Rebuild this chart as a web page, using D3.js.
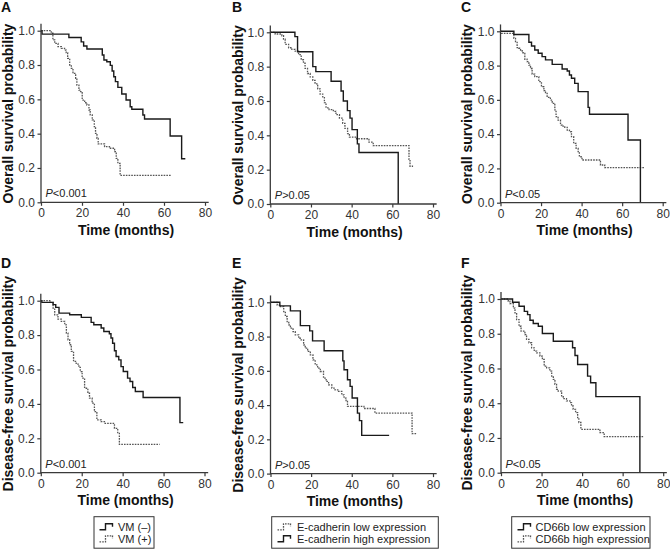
<!DOCTYPE html>
<html><head><meta charset="utf-8">
<script src="https://cdn.jsdelivr.net/npm/d3@7"></script>
<style>
body{margin:0;background:#fff;}
svg{display:block;font-family:"Liberation Sans",Arial,sans-serif;}
</style></head>
<body>
<svg id="chart" width="670" height="549"></svg>
<script>
// ---------- DATA (months, survival probability) ----------
const xTicks = [0, 20, 40, 60, 80];
const yTicks = [0.0, 0.2, 0.4, 0.6, 0.8, 1.0];
const panelLetters = ["A", "B", "C", "D", "E", "F"];
const pValues = ["<0.001", ">0.05", "<0.05", "<0.001", ">0.05", "<0.05"];
const yTitles = ["Overall survival probability", "Disease-free survival probability"];
const xTitle = "Time (months)";

// A: VM (-) solid, VM (+) dotted  (overall survival)
const A_vmNeg_t = [0, 0.5, 13.6, 19.6, 20.8, 22.4, 29.9, 30.7, 32.1, 33.8, 34.7, 35.5, 36.3, 37.5, 39.4, 41.5, 43.5, 44.3, 49.7, 50.5, 63.0, 68.6, 70.4];
const A_vmNeg_s = [1, 0.98, 0.96, 0.935, 0.911, 0.893, 0.858, 0.829, 0.819, 0.798, 0.765, 0.732, 0.703, 0.670, 0.631, 0.596, 0.557, 0.542, 0.509, 0.485, 0.386, 0.254, 0.254];
const A_vmPos_t = [0, 5.0, 5.8, 6.7, 8.3, 9.9, 11.5, 12.3, 13.0, 14.0, 14.8, 15.6, 16.9, 17.5, 18.5, 19.3, 20.1, 21.3, 22.4, 23.4, 24.0, 25.0, 26.0, 26.6, 27.3, 27.9, 31.0, 33.4, 35.9, 36.7, 37.5, 38.6, 63.4];
const A_vmPos_s = [1, 0.985, 0.946, 0.926, 0.907, 0.897, 0.887, 0.872, 0.839, 0.800, 0.781, 0.751, 0.722, 0.683, 0.654, 0.645, 0.596, 0.580, 0.567, 0.538, 0.509, 0.480, 0.441, 0.402, 0.373, 0.340, 0.324, 0.315, 0.295, 0.256, 0.227, 0.157, 0.157];

// B: E-cadherin high solid, low dotted (overall survival)
const B_high_t = [0, 12.1, 13.4, 20.9, 22.4, 29.9, 34.8, 35.9, 37.9, 39.2, 40.2, 42.8, 43.6, 62.9];
const B_high_s = [1, 0.975, 0.887, 0.800, 0.771, 0.715, 0.658, 0.600, 0.544, 0.500, 0.433, 0.35, 0.30, 0];
const B_low_t = [0, 2.4, 5.7, 6.5, 7.3, 9.0, 10.6, 12.2, 13.9, 15.2, 16.3, 17.1, 18.3, 19.6, 20.9, 22.0, 23.3, 24.5, 25.8, 26.6, 27.4, 28.9, 31.0, 32.3, 34.0, 35.6, 36.7, 38.0, 38.9, 42.4, 48.5, 50.6, 68.2, 68.7, 70.2];
const B_low_s = [1, 0.99, 0.98, 0.96, 0.93, 0.91, 0.90, 0.89, 0.87, 0.84, 0.82, 0.79, 0.76, 0.74, 0.72, 0.70, 0.67, 0.64, 0.62, 0.59, 0.56, 0.55, 0.54, 0.52, 0.50, 0.47, 0.44, 0.41, 0.39, 0.38, 0.36, 0.34, 0.26, 0.22, 0.22];

// C: CD66b low solid, high dotted (overall survival)
const C_low_t = [0, 6.6, 14.0, 15.3, 16.9, 18.6, 20.5, 22.2, 25.5, 30.4, 32.9, 34.0, 35.0, 36.6, 38.3, 43.2, 43.9, 62.9, 69.0];
const C_low_s = [1, 0.981, 0.936, 0.914, 0.891, 0.872, 0.852, 0.833, 0.807, 0.780, 0.768, 0.745, 0.726, 0.696, 0.648, 0.556, 0.516, 0.366, 0];
const C_high_t = [0, 0.5, 6.6, 7.4, 8.2, 9.0, 9.9, 10.7, 12.0, 13.1, 14.0, 14.8, 15.6, 16.9, 18.9, 20.2, 21.4, 22.2, 23.0, 24.6, 25.5, 26.8, 27.4, 28.4, 29.6, 30.4, 31.7, 32.9, 34.0, 35.0, 36.1, 37.3, 38.3, 38.9, 40.2, 49.3, 51.4, 71.1];
const C_high_s = [1, 0.988, 0.959, 0.940, 0.905, 0.901, 0.891, 0.875, 0.837, 0.823, 0.803, 0.783, 0.750, 0.735, 0.706, 0.677, 0.654, 0.638, 0.615, 0.599, 0.580, 0.541, 0.502, 0.482, 0.453, 0.447, 0.440, 0.424, 0.414, 0.385, 0.346, 0.317, 0.298, 0.268, 0.249, 0.22, 0.205, 0.205];

// D: VM (-) solid, VM (+) dotted (disease-free survival)
const D_vmNeg_t = [0, 0.5, 6.0, 7.3, 8.9, 14.1, 19.8, 24.6, 25.9, 29.5, 30.8, 33.5, 34.3, 35.1, 36.0, 36.8, 38.1, 39.2, 40.3, 42.4, 43.6, 44.9, 46.2, 50.0, 68.0, 69.6];
const D_vmNeg_s = [1, 0.99, 0.977, 0.961, 0.928, 0.918, 0.903, 0.874, 0.860, 0.841, 0.821, 0.808, 0.783, 0.753, 0.709, 0.676, 0.656, 0.617, 0.588, 0.550, 0.530, 0.495, 0.472, 0.437, 0.291, 0.291];
const D_vmPos_t = [0, 4.4, 6.0, 6.8, 8.4, 10.0, 11.7, 12.5, 13.3, 14.1, 14.9, 16.0, 17.3, 18.6, 19.3, 20.2, 21.4, 23.0, 23.8, 25.1, 26.2, 27.4, 29.5, 31.1, 36.0, 37.6, 38.4, 58.1];
const D_vmPos_s = [1, 0.99, 0.957, 0.918, 0.893, 0.880, 0.860, 0.812, 0.773, 0.744, 0.705, 0.647, 0.631, 0.612, 0.588, 0.550, 0.491, 0.462, 0.433, 0.404, 0.355, 0.307, 0.297, 0.287, 0.258, 0.229, 0.165, 0.165];

// E: E-cadherin high solid, low dotted (disease-free survival)
const E_high_t = [0, 4.6, 9.8, 14.7, 19.3, 20.7, 26.4, 35.6, 36.2, 37.9, 39.2, 40.2, 42.8, 43.8, 44.9, 58.4];
const E_high_s = [1, 0.979, 0.950, 0.864, 0.833, 0.775, 0.717, 0.658, 0.606, 0.548, 0.509, 0.441, 0.353, 0.309, 0.223, 0.223];
const E_low_t = [0, 3.3, 4.9, 6.5, 7.3, 8.2, 9.0, 9.8, 11.1, 12.2, 13.9, 14.7, 16.3, 17.1, 18.3, 19.6, 20.9, 22.0, 23.2, 24.5, 26.1, 27.4, 28.6, 30.2, 31.8, 33.5, 35.1, 36.2, 37.2, 37.9, 46.0, 51.4, 69.7, 71.8];
const E_low_s = [1, 0.984, 0.975, 0.946, 0.917, 0.887, 0.868, 0.849, 0.829, 0.810, 0.790, 0.781, 0.751, 0.732, 0.713, 0.693, 0.664, 0.635, 0.616, 0.596, 0.557, 0.538, 0.518, 0.499, 0.489, 0.480, 0.460, 0.441, 0.421, 0.392, 0.38, 0.353, 0.233, 0.233];

// F: CD66b low solid, high dotted (disease-free survival)
const F_low_t = [0, 5.7, 8.9, 11.5, 13.1, 14.3, 15.9, 18.4, 20.4, 25.8, 35.3, 36.5, 37.8, 42.7, 44.2, 46.8, 68.5];
const F_low_s = [1, 0.981, 0.958, 0.929, 0.910, 0.878, 0.859, 0.843, 0.801, 0.757, 0.719, 0.675, 0.623, 0.556, 0.518, 0.438, 0];
const F_high_t = [0, 3.6, 4.4, 6.1, 6.9, 7.7, 8.9, 9.9, 11.8, 12.6, 13.8, 15.1, 16.4, 17.6, 19.2, 20.4, 21.3, 22.5, 24.1, 25.0, 25.8, 26.6, 27.4, 28.2, 29.9, 30.7, 32.3, 34.0, 34.8, 35.6, 36.8, 37.8, 38.4, 39.4, 48.8, 50.9, 70.6];
const F_high_s = [1, 0.987, 0.973, 0.948, 0.920, 0.881, 0.843, 0.815, 0.795, 0.767, 0.748, 0.719, 0.700, 0.690, 0.671, 0.652, 0.614, 0.604, 0.585, 0.556, 0.537, 0.509, 0.480, 0.470, 0.442, 0.426, 0.413, 0.403, 0.384, 0.365, 0.346, 0.317, 0.289, 0.250, 0.231, 0.208, 0.208];

const legendD = ["VM (\u2013)", "VM (+)"];
const legendE = ["E-cadherin low expression", "E-cadherin high expression"];
const legendF = ["CD66b low expression", "CD66b high expression"];

// ---------- LAYOUT ----------
const panels = [
  {x0: 41,    x80: 205,   y1: 30.7,  y0: 202.3, curves: [[A_vmPos_t, A_vmPos_s, "dot"], [A_vmNeg_t, A_vmNeg_s, "solid"]]},
  {x0: 270.3, x80: 433,   y1: 32.3,  y0: 204,   curves: [[B_low_t, B_low_s, "dot"], [B_high_t, B_high_s, "solid"]]},
  {x0: 500.5, x80: 662.7, y1: 31.3,  y0: 202.7, curves: [[C_high_t, C_high_s, "dot"], [C_low_t, C_low_s, "solid"]]},
  {x0: 40.8,  x80: 204.5, y1: 300.7, y0: 472.7, curves: [[D_vmPos_t, D_vmPos_s, "dot"], [D_vmNeg_t, D_vmNeg_s, "solid"]]},
  {x0: 270.5, x80: 433,   y1: 302.3, y0: 473.6, curves: [[E_low_t, E_low_s, "dot"], [E_high_t, E_high_s, "solid"]]},
  {x0: 501,   x80: 663.2, y1: 299,   y0: 472.7, curves: [[F_high_t, F_high_s, "dot"], [F_low_t, F_low_s, "solid"]]}
];
const letterPos = [[1, 12], [232, 12], [461, 12], [1, 268], [232, 268], [461, 268]];
const yTitleX = [12.5, 242.5, 472];

const styles = {
  solid: {stroke: "#1a1a1a", width: 1.4, dash: null},
  dot:   {stroke: "#555",    width: 1.3, dash: "1.6,1.1"}
};

const svg = d3.select("#chart");
const axisColor = "#3a3a3a";
const tickColor = "#333";

panels.forEach((p, i) => {
  const g = svg.append("g");
  const x = d3.scaleLinear().domain([0, 80]).range([p.x0, p.x80]);
  const y = d3.scaleLinear().domain([0, 1]).range([p.y0, p.y1]);

  // curves
  p.curves.forEach(([t, s, st]) => {
    const pts = t.map((d, k) => [d, s[k]]);
    const line = d3.line().x(d => x(d[0])).y(d => y(d[1])).curve(d3.curveStepAfter);
    g.append("path").attr("d", line(pts))
      .attr("fill", "none")
      .attr("stroke", styles[st].stroke)
      .attr("stroke-width", styles[st].width)
      .attr("stroke-dasharray", styles[st].dash);
  });

  // y axis
  const yAx = g.append("g").attr("transform", `translate(${p.x0},0)`)
    .call(d3.axisLeft(y).tickValues(yTicks).tickFormat(d3.format(".1f")).tickSize(3.5).tickPadding(2.5));
  yAx.select(".domain").remove();
  yAx.append("line").attr("x1", 0).attr("x2", 0).attr("y1", y(-0.004)).attr("y2", y(1.04))
    .attr("stroke", axisColor).attr("stroke-width", 1.3);
  // x axis
  const xAx = g.append("g").attr("transform", `translate(0,${p.y0})`)
    .call(d3.axisBottom(x).tickValues(xTicks).tickSize(3.5).tickPadding(3));
  xAx.select(".domain").remove();
  xAx.append("line").attr("x1", p.x0).attr("x2", x(81.8)).attr("y1", 0).attr("y2", 0)
    .attr("stroke", axisColor).attr("stroke-width", 1.3);
  [yAx, xAx].forEach(a => {
    a.selectAll(".tick line").attr("stroke", axisColor).attr("stroke-width", 1.2);
    a.selectAll(".tick text").attr("fill", tickColor).attr("font-size", 12)
      .attr("font-family", "Liberation Sans, Arial, sans-serif");
  });

  // x title
  g.append("text").attr("x", (p.x0 + p.x80) / 2 + 3).attr("y", p.y0 + 32.5)
    .attr("text-anchor", "middle").attr("font-size", 14).attr("font-weight", "bold")
    .attr("fill", "#111").text(xTitle);
  // y title
  const row = i < 3 ? 0 : 1;
  const cy = (p.y0 + p.y1) / 2 - 3;
  g.append("text").attr("transform", `translate(${yTitleX[i % 3]},${cy}) rotate(-90)`)
    .attr("text-anchor", "middle").attr("font-size", 14).attr("font-weight", "bold")
    .attr("fill", "#111").text(yTitles[row]);
  // panel letter
  g.append("text").attr("x", letterPos[i][0]).attr("y", letterPos[i][1])
    .attr("font-size", 14).attr("font-weight", "bold").attr("fill", "#111").text(panelLetters[i]);
  // p value
  const pt = g.append("text").attr("x", p.x0 + 4.5).attr("y", p.y0 - 5)
    .attr("font-size", 11).attr("fill", "#222");
  pt.append("tspan").attr("font-style", "italic").text("P");
  pt.append("tspan").text(pValues[i]);
});

// ---------- LEGENDS ----------
const legends = [
  {box: [94, 516.7, 60, 31.5], iconX: 99.5, textX: 118, labels: legendD, kinds: ["solid", "dot"]},
  {box: [271.7, 516.7, 166.6, 31.5], iconX: 277.5, textX: 297, labels: legendE, kinds: ["dot", "solid"]},
  {box: [511.7, 516.7, 138.3, 31.5], iconX: 517.5, textX: 535.5, labels: legendF, kinds: ["solid", "dot"]}
];
const lineY = [527.3, 539.3];
legends.forEach(L => {
  const g = svg.append("g");
  g.append("rect").attr("x", L.box[0]).attr("y", L.box[1]).attr("width", L.box[2]).attr("height", L.box[3])
    .attr("fill", "#fff").attr("stroke", "#333").attr("stroke-width", 1);
  L.labels.forEach((lab, k) => {
    const cy = lineY[k];
    const st = styles[L.kinds[k]];
    g.append("path")
      .attr("d", `M${L.iconX},${cy + 2.5} h6 v-6 h7 v3`)
      .attr("fill", "none").attr("stroke", st.stroke).attr("stroke-width", st.width)
      .attr("stroke-dasharray", st.dash);
    g.append("text").attr("x", L.textX).attr("y", cy + 4).attr("font-size", 11)
      .attr("fill", "#222").text(lab);
  });
});
</script>
</body></html>
